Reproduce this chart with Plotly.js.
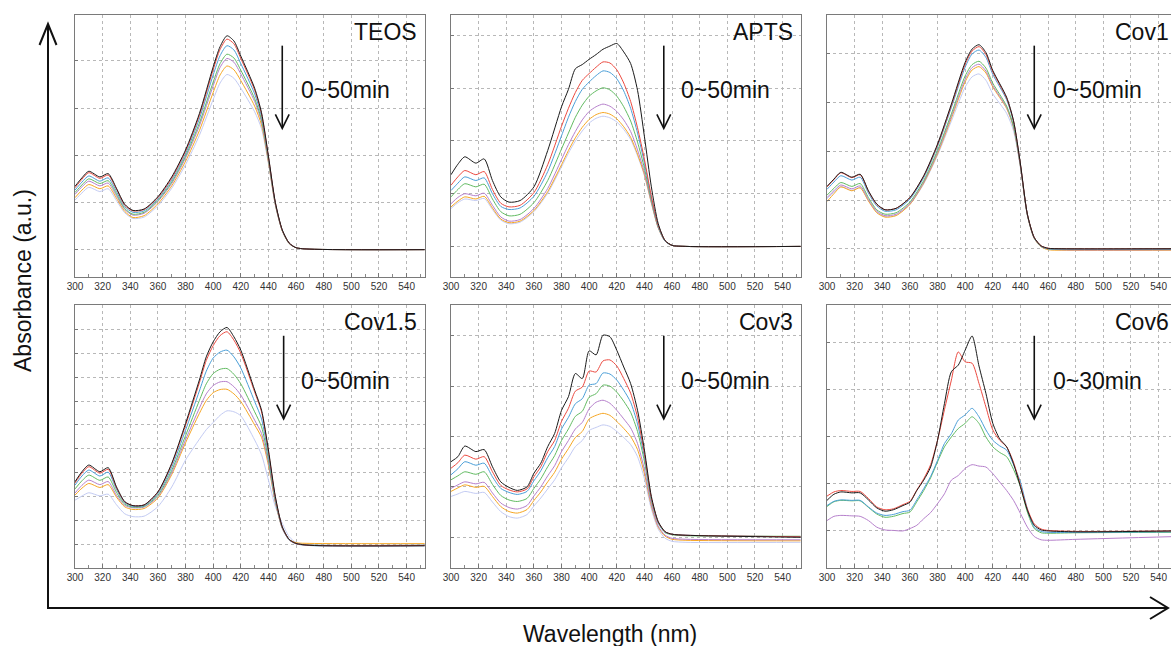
<!DOCTYPE html>
<html>
<head>
<meta charset="utf-8">
<script src="https://cdn.plot.ly/plotly-3.0.1.min.js"></script>
<style>
html,body{margin:0;padding:0;overflow:hidden;background:#fff;}
#chart{width:1180px;height:646px;}
</style>
</head>
<body>
<div id="chart"></div>
<script>
// ---------- DATA (arbitrary absorbance units: 1 = one grid step) ----------
const panelLabels = ['TEOS', 'APTS', 'Cov1', 'Cov1.5', 'Cov3', 'Cov6'];
const timeLabels = ['0~50min', '0~50min', '0~50min', '0~50min', '0~50min', '0~30min'];
const xTicks = [300, 320, 340, 360, 380, 400, 420, 440, 460, 480, 500, 520, 540];

// TEOS
const wlTEOS = [300,305,310,318,324,330,336,342,350,360,370,380,390,400,405,410,415,420,430,435,440,445,450,455,460,470,553];
const teosBlack    = [1.34,1.52,1.66,1.54,1.61,1.30,0.96,0.83,0.86,1.12,1.54,2.11,2.88,3.87,4.30,4.53,4.42,4.10,3.42,2.90,1.98,1.00,0.42,0.14,0.04,0.01,0];
const teosRed      = [1.31,1.49,1.63,1.51,1.58,1.28,0.94,0.82,0.85,1.10,1.51,2.08,2.84,3.81,4.24,4.46,4.36,4.05,3.38,2.87,1.96,0.99,0.41,0.14,0.04,0.01,0];
const teosBlue     = [1.26,1.43,1.56,1.45,1.52,1.23,0.91,0.79,0.82,1.07,1.47,2.03,2.77,3.70,4.11,4.32,4.23,3.94,3.30,2.82,1.94,0.98,0.41,0.14,0.04,0.01,0];
const teosGreen    = [1.21,1.37,1.50,1.40,1.46,1.18,0.87,0.75,0.79,1.04,1.43,1.98,2.68,3.55,3.94,4.14,4.06,3.80,3.20,2.75,1.90,0.97,0.40,0.13,0.04,0.01,0];
const teosPurple   = [1.17,1.33,1.45,1.35,1.41,1.14,0.85,0.73,0.77,1.02,1.40,1.94,2.62,3.47,3.86,4.05,3.97,3.72,3.14,2.71,1.88,0.96,0.40,0.13,0.04,0.01,0];
const teosOrange   = [1.10,1.26,1.38,1.29,1.35,1.09,0.81,0.68,0.72,0.97,1.35,1.87,2.52,3.33,3.70,3.89,3.81,3.58,3.04,2.64,1.85,0.95,0.40,0.13,0.04,0.01,0];
const teosLavender = [1.05,1.20,1.32,1.23,1.29,1.04,0.78,0.66,0.69,0.93,1.30,1.80,2.42,3.18,3.53,3.71,3.63,3.42,2.92,2.56,1.82,0.94,0.40,0.13,0.04,0.01,0];

// APTS
const wlAPTS = [300,305,310,318,324,330,336,342,350,360,370,380,385,390,395,400,405,410,415,420,425,430,435,440,445,450,455,460,470,553];
const aptsBlack    = [1.36,1.56,1.70,1.58,1.66,1.25,0.94,0.84,0.87,1.13,1.82,2.65,2.98,3.37,3.45,3.55,3.64,3.74,3.80,3.85,3.69,3.47,2.96,2.08,1.13,0.43,0.11,0.02,0,0];
const aptsRed      = [1.16,1.32,1.44,1.36,1.42,1.08,0.82,0.75,0.78,1.02,1.55,2.28,2.62,2.92,3.15,3.28,3.40,3.50,3.48,3.35,3.10,2.75,2.25,1.65,0.95,0.40,0.11,0.02,0,0];
const aptsBlue     = [1.06,1.20,1.32,1.25,1.30,1.00,0.76,0.70,0.73,0.95,1.42,2.10,2.45,2.75,2.98,3.12,3.24,3.33,3.30,3.18,2.95,2.62,2.15,1.58,0.92,0.38,0.10,0.02,0,0];
const aptsGreen    = [0.94,1.08,1.19,1.13,1.18,0.90,0.66,0.58,0.61,0.83,1.25,1.85,2.15,2.45,2.68,2.85,2.95,3.01,2.97,2.85,2.65,2.38,1.98,1.48,0.88,0.37,0.10,0.02,0,0];
const aptsPurple   = [0.81,0.93,1.00,0.96,1.01,0.78,0.56,0.48,0.51,0.72,1.10,1.65,1.93,2.18,2.40,2.56,2.65,2.70,2.66,2.56,2.40,2.18,1.83,1.40,0.85,0.36,0.10,0.02,0,0];
const aptsOrange   = [0.75,0.86,0.94,0.90,0.95,0.73,0.52,0.45,0.48,0.68,1.04,1.55,1.82,2.06,2.26,2.41,2.50,2.54,2.51,2.42,2.27,2.07,1.75,1.36,0.83,0.35,0.10,0.02,0,0];
const aptsLavender = [0.72,0.83,0.90,0.87,0.91,0.70,0.50,0.43,0.46,0.66,1.01,1.51,1.77,2.00,2.19,2.34,2.43,2.47,2.44,2.36,2.22,2.03,1.72,1.34,0.82,0.35,0.10,0.02,0,0];

// Cov1
const wlCov1 = [300,305,310,318,324,330,336,342,350,360,370,380,390,400,405,410,415,420,430,435,440,445,450,455,460,470,553];
const cov1Black    = [1.28,1.43,1.57,1.47,1.53,1.19,0.92,0.80,0.83,1.05,1.50,2.15,2.97,3.83,4.10,4.19,4.03,3.66,3.11,2.63,1.74,0.71,0.23,0.06,0.01,0,0];
const cov1Red      = [1.27,1.42,1.56,1.46,1.52,1.18,0.91,0.80,0.83,1.05,1.49,2.13,2.94,3.79,4.06,4.15,3.99,3.63,3.09,2.62,1.73,0.71,0.23,0.06,0.01,0,0];
const cov1Blue     = [1.22,1.37,1.50,1.41,1.47,1.14,0.88,0.77,0.80,1.02,1.46,2.10,2.90,3.73,4.00,4.08,3.93,3.58,3.06,2.60,1.72,0.70,0.22,0.05,0.0,-0.01,-0.01];
const cov1Green    = [1.10,1.24,1.36,1.28,1.34,1.05,0.80,0.71,0.74,0.96,1.40,2.02,2.77,3.55,3.78,3.85,3.71,3.40,2.93,2.52,1.70,0.70,0.22,0.05,0.0,-0.01,-0.01];
const cov1Purple   = [1.05,1.19,1.31,1.23,1.29,1.01,0.77,0.68,0.71,0.93,1.37,1.98,2.72,3.48,3.72,3.79,3.65,3.35,2.90,2.50,1.69,0.70,0.22,0.05,0.0,-0.02,-0.02];
const cov1Orange   = [0.97,1.13,1.27,1.19,1.25,0.98,0.74,0.65,0.68,0.91,1.35,1.95,2.68,3.43,3.67,3.74,3.61,3.32,2.88,2.49,1.69,0.69,0.21,0.04,-0.02,-0.03,-0.03];
const cov1Lavender = [1.03,1.16,1.28,1.20,1.26,0.99,0.75,0.66,0.69,0.91,1.33,1.92,2.62,3.32,3.53,3.59,3.46,3.18,2.78,2.42,1.66,0.68,0.21,0.04,-0.01,-0.02,-0.02];

// Cov1.5 (grid step is finer in this panel)
const wlCov15 = [300,305,310,318,324,330,336,342,350,360,370,380,390,395,400,405,410,415,420,430,435,440,445,450,455,460,470,553];
const cov15Black    = [2.62,3.04,3.32,3.04,3.21,2.41,1.79,1.62,1.65,2.20,3.39,5.06,6.88,7.85,8.48,8.90,9.08,8.69,8.13,6.46,5.62,3.95,2.00,0.74,0.21,0.04,-0.04,-0.06];
const cov15Red      = [2.57,2.98,3.25,2.98,3.14,2.37,1.77,1.62,1.65,2.18,3.35,4.98,6.76,7.70,8.32,8.74,8.90,8.55,8.00,6.38,5.55,3.88,1.96,0.72,0.20,0.03,-0.04,-0.05];
const cov15Blue     = [2.48,2.86,3.11,2.86,3.02,2.30,1.74,1.59,1.62,2.12,3.23,4.78,6.42,7.25,7.80,8.05,8.13,7.85,7.38,5.98,5.25,3.72,1.90,0.70,0.19,0.02,-0.05,-0.06];
const cov15Green    = [2.32,2.66,2.90,2.68,2.82,2.18,1.68,1.56,1.59,2.05,3.10,4.55,6.02,6.72,7.15,7.33,7.36,7.12,6.72,5.55,4.92,3.55,1.84,0.69,0.19,0.03,-0.03,-0.04];
const cov15Purple   = [2.15,2.47,2.69,2.50,2.63,2.06,1.63,1.53,1.56,2.00,3.00,4.38,5.70,6.30,6.65,6.80,6.81,6.60,6.25,5.20,4.64,3.40,1.78,0.67,0.18,0.03,-0.03,-0.04];
const cov15Orange   = [2.06,2.35,2.55,2.38,2.50,1.98,1.57,1.46,1.50,1.94,2.92,4.25,5.48,6.02,6.35,6.48,6.49,6.30,5.98,5.00,4.48,3.30,1.75,0.68,0.20,0.07,0.04,0.03];
const cov15Lavender = [1.85,2.02,2.16,2.03,2.10,1.66,1.28,1.16,1.18,1.58,2.40,3.53,4.40,4.80,5.10,5.40,5.59,5.55,5.38,4.37,3.75,2.69,1.58,0.88,0.32,0.08,-0.02,-0.03];

// Cov3
const wlCov3 = [300,305,310,318,324,330,336,342,348,355,360,365,370,375,380,385,390,395,400,405,410,415,420,425,430,435,440,445,450,455,460,470,553];
const cov3Black    = [1.50,1.60,1.81,1.70,1.74,1.40,1.10,0.99,0.93,1.00,1.27,1.47,1.80,2.06,2.52,2.79,3.25,3.15,3.70,3.62,4.01,3.98,3.71,3.38,3.05,2.52,1.73,0.81,0.31,0.11,0.06,0.04,0.0];
const cov3Red      = [1.37,1.48,1.63,1.55,1.60,1.30,1.03,0.94,0.90,0.96,1.20,1.40,1.70,1.92,2.30,2.56,2.90,2.98,3.30,3.28,3.50,3.52,3.40,3.15,2.86,2.38,1.65,0.78,0.30,0.11,0.06,0.04,0.01];
const cov3Blue     = [1.24,1.36,1.50,1.43,1.47,1.20,0.97,0.89,0.85,0.91,1.12,1.32,1.58,1.80,2.15,2.38,2.65,2.75,3.02,3.05,3.26,3.24,3.12,2.92,2.68,2.25,1.58,0.76,0.29,0.10,0.06,0.04,0.01];
const cov3Green    = [1.14,1.22,1.30,1.25,1.30,1.05,0.83,0.74,0.71,0.77,0.97,1.16,1.40,1.62,1.92,2.15,2.40,2.50,2.78,2.85,3.02,3.00,2.88,2.70,2.48,2.10,1.50,0.73,0.28,0.09,0.05,0.03,0.02];
const cov3Purple   = [0.97,1.04,1.10,1.06,1.09,0.88,0.68,0.59,0.56,0.63,0.82,1.00,1.22,1.42,1.70,1.92,2.15,2.28,2.55,2.68,2.72,2.66,2.52,2.35,2.17,1.86,1.34,0.65,0.22,0.04,-0.02,-0.04,-0.05];
const cov3Orange   = [0.91,0.98,1.04,0.99,1.01,0.81,0.61,0.51,0.48,0.55,0.73,0.90,1.10,1.29,1.55,1.76,1.98,2.10,2.35,2.42,2.46,2.42,2.30,2.16,2.00,1.74,1.26,0.62,0.20,0.02,-0.04,-0.06,-0.07];
const cov3Lavender = [0.81,0.86,0.91,0.87,0.89,0.70,0.51,0.41,0.38,0.45,0.62,0.78,0.96,1.14,1.38,1.58,1.80,1.92,2.12,2.18,2.23,2.20,2.10,1.98,1.84,1.60,1.16,0.56,0.16,-0.02,-0.08,-0.10,-0.10];

// Cov6
const wlCov6 = [300,305,310,318,324,330,336,342,348,355,360,365,370,375,380,385,390,395,400,405,410,415,420,425,430,435,440,445,450,455,460,480,553];
const cov6Black  = [0.64,0.77,0.82,0.80,0.80,0.65,0.48,0.41,0.44,0.53,0.60,0.85,1.07,1.35,1.92,2.70,3.38,3.52,3.84,4.14,3.50,2.92,2.28,1.95,1.78,1.42,0.93,0.43,0.11,0.01,-0.01,-0.03,-0.01];
const cov6Red    = [0.73,0.82,0.85,0.83,0.83,0.68,0.50,0.44,0.46,0.55,0.62,0.86,1.10,1.40,1.92,2.57,3.20,3.80,3.59,3.56,3.13,2.63,2.14,1.92,1.78,1.45,0.96,0.46,0.14,0.03,0.0,-0.02,-0.01];
const cov6Blue   = [0.53,0.62,0.65,0.64,0.64,0.50,0.37,0.32,0.34,0.40,0.43,0.65,0.89,1.15,1.49,1.85,2.06,2.35,2.46,2.60,2.42,2.14,1.92,1.80,1.71,1.40,1.03,0.46,0.07,-0.02,-0.04,-0.04,-0.03];
const cov6Green  = [0.51,0.61,0.64,0.63,0.63,0.49,0.35,0.28,0.30,0.36,0.39,0.61,0.85,1.12,1.46,1.78,1.99,2.17,2.28,2.42,2.28,1.99,1.78,1.66,1.57,1.30,0.93,0.39,0.04,-0.05,-0.06,-0.05,-0.04];
const cov6Purple = [0.21,0.30,0.32,0.31,0.30,0.21,0.07,0.01,0.0,-0.01,0.04,0.11,0.25,0.38,0.57,0.78,1.07,1.17,1.32,1.40,1.37,1.35,1.21,1.03,0.85,0.64,0.36,0.07,-0.13,-0.20,-0.21,-0.19,-0.13];

// ---------- STYLE ----------
const colBlack = '#1a1a1a', colRed = '#ec4a40', colBlue = '#4b9fd8', colGreen = '#62bb62',
      colPurple = '#b680cc', colOrange = '#f6a623', colLav = '#c3cbf3';

const panels = [
  {wl: wlTEOS,  series: [[teosLavender,colLav],[teosOrange,colOrange],[teosPurple,colPurple],[teosGreen,colGreen],[teosBlue,colBlue],[teosRed,colRed],[teosBlack,colBlack]], yr: [-0.58, 4.97], dt: 1, ax: 450, tx: 462},
  {wl: wlAPTS,  series: [[aptsLavender,colLav],[aptsOrange,colOrange],[aptsPurple,colPurple],[aptsGreen,colGreen],[aptsBlue,colBlue],[aptsRed,colRed],[aptsBlack,colBlack]], yr: [-0.58, 4.39], dt: 1, ax: 454, tx: 465},
  {wl: wlCov1,  series: [[cov1Lavender,colLav],[cov1Orange,colOrange],[cov1Purple,colPurple],[cov1Green,colGreen],[cov1Blue,colBlue],[cov1Red,colRed],[cov1Black,colBlack]], yr: [-0.58, 4.80], dt: 1, ax: 450, tx: 462},
  {wl: wlCov15, series: [[cov15Lavender,colLav],[cov15Orange,colOrange],[cov15Purple,colPurple],[cov15Green,colGreen],[cov15Blue,colBlue],[cov15Red,colRed],[cov15Black,colBlack]], yr: [-0.99, 10.02], dt: 1, ax: 451, tx: 462},
  {wl: wlCov3,  series: [[cov3Lavender,colLav],[cov3Orange,colOrange],[cov3Purple,colPurple],[cov3Green,colGreen],[cov3Blue,colBlue],[cov3Red,colRed],[cov3Black,colBlack]], yr: [-0.61, 4.61], dt: 1, ax: 454, tx: 465},
  {wl: wlCov6,  series: [[cov6Purple,colPurple],[cov6Green,colGreen],[cov6Blue,colBlue],[cov6Red,colRed],[cov6Black,colBlack]], yr: [-0.80, 4.80], dt: 1, ax: 450, tx: 462}
];

const W = 1180, H = 646;
const colX = [[75, 425], [451, 801], [827, 1177]];
const rowY = [[15, 277], [305, 568]];

const traces = [];
const layout = {
  width: W, height: H,
  margin: {l: 0, r: 0, t: 0, b: 0},
  paper_bgcolor: '#fff', plot_bgcolor: '#fff',
  showlegend: false,
  font: {family: 'Liberation Sans, Arial, sans-serif', color: '#222'},
  annotations: [], shapes: []
};

panels.forEach((p, i) => {
  const n = i + 1;
  const sfx = n === 1 ? '' : String(n);
  const c = colX[i % 3], r = rowY[Math.floor(i / 3)];
  p.series.forEach(([ys, col]) => {
    traces.push({
      type: 'scatter', mode: 'lines', x: p.wl, y: ys,
      xaxis: 'x' + sfx, yaxis: 'y' + sfx,
      line: {color: col, width: 1, shape: 'spline', smoothing: 0.7},
      hoverinfo: 'skip'
    });
  });
  layout['xaxis' + sfx] = {
    domain: [c[0] / W, c[1] / W], anchor: 'y' + sfx,
    range: [300, 553.3], tickvals: xTicks, ticktext: xTicks.map(String),
    showgrid: true, gridcolor: '#b8b8b8', griddash: 'dot', gridwidth: 1,
    zeroline: false, showline: true, linecolor: '#7a7a7a', linewidth: 1, mirror: true,
    ticks: 'inside', ticklen: 4, tickcolor: '#777',
    minor: {dtick: 10, tick0: 300, ticks: 'inside', ticklen: 3, tickcolor: '#888', showgrid: false},
    tickfont: {size: 10, color: '#333', family: 'Liberation Sans, Arial, sans-serif'},
    fixedrange: true
  };
  layout['yaxis' + sfx] = {
    domain: [(H - r[1]) / H, (H - r[0]) / H], anchor: 'x' + sfx,
    range: p.yr, dtick: p.dt, tick0: 0,
    showgrid: true, gridcolor: '#b8b8b8', griddash: 'dot', gridwidth: 1,
    zeroline: false, showline: true, linecolor: '#7a7a7a', linewidth: 1, mirror: true,
    ticks: 'inside', ticklen: 3, tickcolor: '#777', showticklabels: false,
    fixedrange: true
  };
  layout.annotations.push({
    xref: 'x' + sfx + ' domain', yref: 'y' + sfx + ' domain', x: 1, y: 0.935,
    xanchor: 'right', yanchor: 'middle', xshift: -6, showarrow: false,
    text: panelLabels[i], font: {size: 23, color: '#111'}
  });
  layout.annotations.push({
    xref: 'x' + sfx, yref: 'y' + sfx + ' domain', x: p.tx, y: 0.712,
    xanchor: 'left', yanchor: 'middle', showarrow: false,
    text: timeLabels[i], font: {size: 23, color: '#111'}
  });
  layout.shapes.push({
    type: 'line', xref: 'x' + sfx, yref: 'y' + sfx + ' domain',
    x0: p.ax, x1: p.ax, y0: 0.883, y1: 0.569, line: {color: '#111', width: 1.6}
  });
  layout.shapes.push({
    type: 'path', xref: 'x' + sfx, yref: 'y' + sfx + ' domain',
    path: `M ${p.ax - 5},0.621 L ${p.ax},0.567 L ${p.ax + 5},0.621`,
    line: {color: '#111', width: 1.6}
  });
});

// big framing arrows (paper coordinates from pixel positions)
const px = x => x / W, py = y => (H - y) / H;
layout.shapes.push({type: 'line', xref: 'paper', yref: 'paper', x0: px(48), x1: px(48), y0: py(608), y1: py(25), line: {color: '#111', width: 2}});
layout.shapes.push({type: 'line', xref: 'paper', yref: 'paper', x0: px(47), x1: px(1167), y0: py(608), y1: py(608), line: {color: '#111', width: 2}});
layout.shapes.push({type: 'path', xref: 'paper', yref: 'paper',
  path: `M ${px(39.5)},${py(45)} L ${px(48)},${py(24)} L ${px(56.5)},${py(45)}`, line: {color: '#111', width: 2}});
layout.shapes.push({type: 'path', xref: 'paper', yref: 'paper',
  path: `M ${px(1150)},${py(597)} L ${px(1168)},${py(608)} L ${px(1150)},${py(619)}`, line: {color: '#111', width: 2}});

layout.annotations.push({xref: 'paper', yref: 'paper', x: px(23), y: py(281), textangle: -90,
  xanchor: 'center', yanchor: 'middle', showarrow: false, text: 'Absorbance (a.u.)', font: {size: 23, color: '#111'}});
layout.annotations.push({xref: 'paper', yref: 'paper', x: px(610), y: py(634),
  xanchor: 'center', yanchor: 'middle', showarrow: false, text: 'Wavelength (nm)', font: {size: 23, color: '#111'}});

Plotly.newPlot('chart', traces, layout, {staticPlot: true, displayModeBar: false});
</script>
</body>
</html>
